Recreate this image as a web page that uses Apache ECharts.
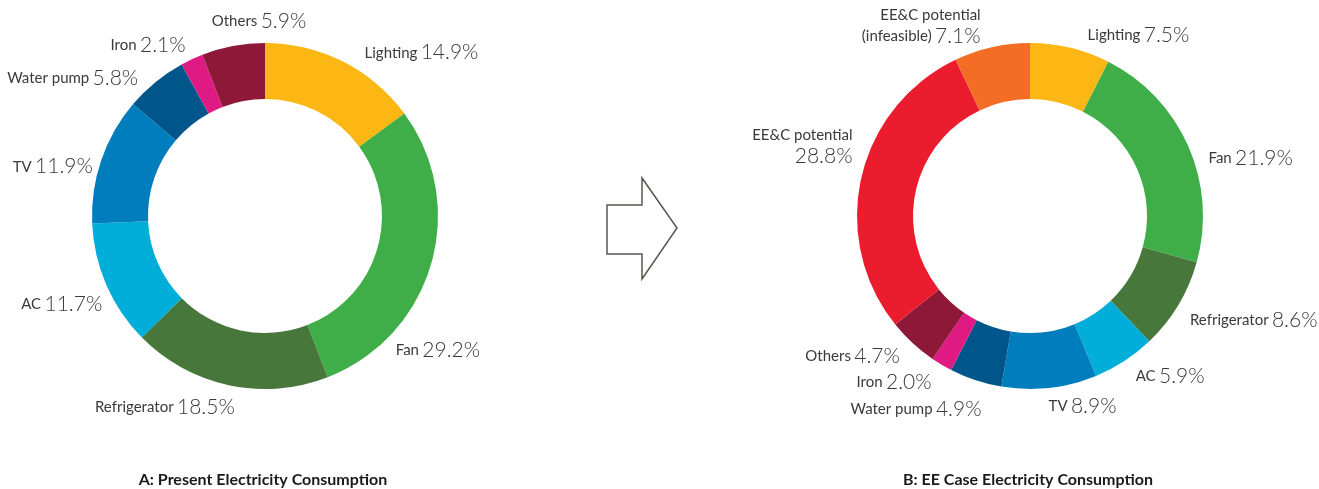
<!DOCTYPE html>
<html>
<head>
<meta charset="utf-8">
<script src="https://cdn.jsdelivr.net/npm/echarts@6/dist/echarts.min.js"></script>
<style>
  html, body { margin: 0; padding: 0; background: #fff; }
  #chart { width: 1319px; height: 489px; }
</style>
</head>
<body>
<div id="chart"></div>
<script>
// Present consumption shares (%)
const presentNames = ['Lighting', 'Fan', 'Refrigerator', 'AC', 'TV', 'Water pump', 'Iron', 'Others'];
const presentValues = [14.9, 29.2, 18.5, 11.7, 11.9, 5.8, 2.1, 5.9];

// Efficient case shares (%)
const eeNames = ['Lighting', 'Fan', 'Refrigerator', 'AC', 'TV', 'Water pump', 'Iron', 'Others',
  'EE&C potential', 'EE&C potential\n(infeasible)'];
const eeValues = [7.5, 21.9, 8.6, 5.9, 8.9, 4.9, 2.0, 4.7, 28.8, 7.1];

const palette = {
  'Lighting': '#FDB714',
  'Fan': '#3FAE49',
  'Refrigerator': '#48773C',
  'AC': '#00AED9',
  'TV': '#007DBC',
  'Water pump': '#00558A',
  'Iron': '#E01A83',
  'Others': '#8E1838',
  'EE&C potential': '#EB1C2D',
  'EE&C potential\n(infeasible)': '#F36D25'
};

const titles = ['A: Present Electricity Consumption', 'B: EE Case Electricity Consumption'];

// Hand-tuned nudges of the outside labels, [dx, dy] per slice
const presentNudge = [[12, 0], [-50, 83], [13, 12], [10, 15], [6, 10], [-6, 4], [3, -5], [80, -15]];
const eeNudge = [[10, -3], [6, 16], [-2, 10], [1, 7], [-7, 8], [14, 19], [0, 9], [-1, 6], [6, -29], [-4, -11]];
const nudges = [presentNudge, eeNudge];

function toData(names, values) {
  return names.map((n, i) => ({ name: n, value: values[i], itemStyle: { color: palette[n] } }));
}

function fmt(p) {
  const parts = p.name.split('\n');
  const v = p.value.toFixed(1) + '%';
  if (parts.length > 1) {
    return '{n|' + parts[0] + '}\n{n|' + parts[1] + '} {v|' + v + '}';
  }
  if (p.value > 20 && p.name.indexOf('EE&C') === 0) {
    return '{n|' + p.name + '}\n{v|' + v + '}';
  }
  return '{n|' + p.name + '} {v|' + v + '}';
}

const labelStyle = {
  show: true,
  position: 'outside',
  formatter: fmt,
  rich: {
    n: { fontFamily: 'Lato', fontSize: 15, color: '#3a3a3a', lineHeight: 20 },
    v: { fontFamily: 'Lato', fontSize: 21, fontWeight: 300, color: '#3a3a3a', lineHeight: 22 }
  }
};

function pie(center, names, values, k) {
  return {
    type: 'pie',
    center: center,
    radius: [117, 173],
    startAngle: 90,
    clockwise: true,
    silent: true,
    avoidLabelOverlap: false,
    minShowLabelAngle: 0,
    label: labelStyle,
    labelLine: { show: false, length: 10, length2: 0 },
    labelLayout: function (p) {
      const d = nudges[k][p.dataIndex];
      return { dx: d[0], dy: d[1], hideOverlap: false };
    },
    itemStyle: { borderWidth: 0 },
    data: toData(names, values)
  };
}

const chart = echarts.init(document.getElementById('chart'), null, { renderer: 'canvas' });
chart.setOption({
  animation: false,
  backgroundColor: '#ffffff',
  title: [
    { text: titles[0], left: 263, top: 472, textAlign: 'center', padding: 0,
      textStyle: { fontFamily: 'Lato', fontSize: 16, fontWeight: 'bold', color: '#1a1a1a' } },
    { text: titles[1], left: 1028, top: 472, textAlign: 'center', padding: 0,
      textStyle: { fontFamily: 'Lato', fontSize: 16, fontWeight: 'bold', color: '#1a1a1a' } }
  ],
  graphic: [{
    type: 'polygon',
    shape: { points: [[607, 205], [642, 205], [642, 178], [677, 228], [642, 279], [642, 254], [607, 254]] },
    style: { fill: '#fff', stroke: '#5e554d', lineWidth: 1.5 }
  }],
  series: [
    pie([265, 216], presentNames, presentValues, 0),
    pie([1030, 216], eeNames, eeValues, 1)
  ]
});
</script>
</body>
</html>
